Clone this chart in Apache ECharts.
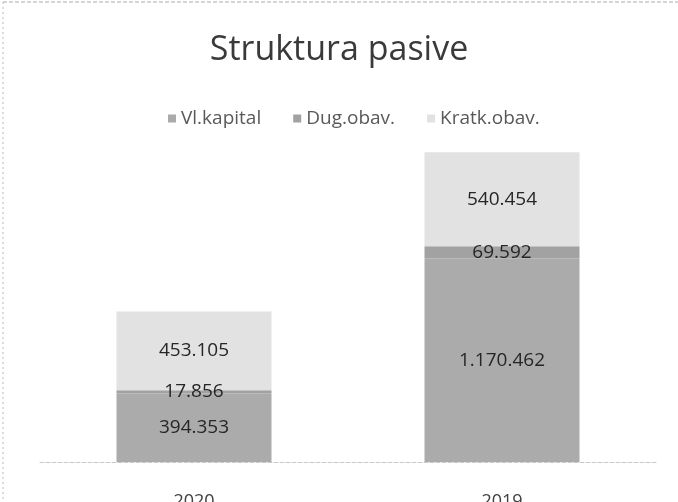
<!DOCTYPE html>
<html>
<head>
<meta charset="utf-8">
<script src="https://cdn.jsdelivr.net/npm/echarts@6/dist/echarts.min.js"></script>
<style>
  html, body { margin: 0; padding: 0; background: #fff; }
  #main { width: 678px; height: 502px; }
</style>
</head>
<body>
<div id="main"></div>
<script>
// podaci sa slike (u tisućama)
var godine = ["2020", "2019"]
var vlKapital = [394353, 1170462]
var dugObav = [17856, 69592]
var kratkObav = [453105, 540454]

function formatBroj(v) {
  return String(v).replace(/\B(?=(\d{3})+(?!\d))/g, ".")
}

var chartDom = document.getElementById("main")
var myChart = echarts.init(chartDom)

var labelStil = {
  show: true,
  position: "inside",
  color: "#262626",
  fontSize: 19,
  fontFamily: "Open Sans",
  formatter: function (p) { return formatBroj(p.value) }
}

var option = {
  animation: false,
  title: {
    text: "Struktura pasive",
    left: "center",
    top: 28,
    textStyle: { fontSize: 34, fontWeight: "normal", color: "#3a3a3a", fontFamily: "Open Sans" }
  },
  legend: {
    top: 104,
    left: 163,
    itemWidth: 8,
    itemHeight: 8,
    itemGap: 32,
    icon: "rect",
    textStyle: { fontSize: 19, color: "#595959", fontFamily: "Open Sans" },
    data: ["Vl.kapital", "Dug.obav.", "Kratk.obav."]
  },
  grid: { left: 40, right: 22, top: 114, bottom: 40, outerBoundsMode: "none" },
  xAxis: {
    type: "category",
    data: godine,
    axisTick: { show: false },
    axisLine: { lineStyle: { color: "#c8c8c8", type: "dashed", width: 1 } },
    axisLabel: { fontSize: 18, color: "#404040", margin: 31, fontFamily: "Open Sans" }
  },
  yAxis: {
    type: "value",
    min: 0,
    max: 2000000,
    show: false,
    splitLine: { show: false }
  },
  series: [
    {
      name: "Vl.kapital",
      type: "bar",
      stack: "pasiva",
      barWidth: 155,
      data: vlKapital,
      itemStyle: { color: "#ababab" },
      label: labelStil
    },
    {
      name: "Dug.obav.",
      type: "bar",
      stack: "pasiva",
      data: dugObav,
      itemStyle: { color: "#a2a2a2" },
      label: labelStil
    },
    {
      name: "Kratk.obav.",
      type: "bar",
      stack: "pasiva",
      data: kratkObav,
      itemStyle: { color: "#e2e2e2" },
      label: labelStil
    }
  ],
  graphic: [
    { type: "line", shape: { x1: 3, y1: 2, x2: 3, y2: 502 }, style: { stroke: "#bbbbbb", lineDash: [2, 3], lineWidth: 1 } },
    { type: "line", shape: { x1: 3, y1: 2, x2: 678, y2: 2 }, style: { stroke: "#aaaaaa", lineDash: [4, 2], lineWidth: 1 } }
  ]
}

option && myChart.setOption(option)
</script>
</body>
</html>
